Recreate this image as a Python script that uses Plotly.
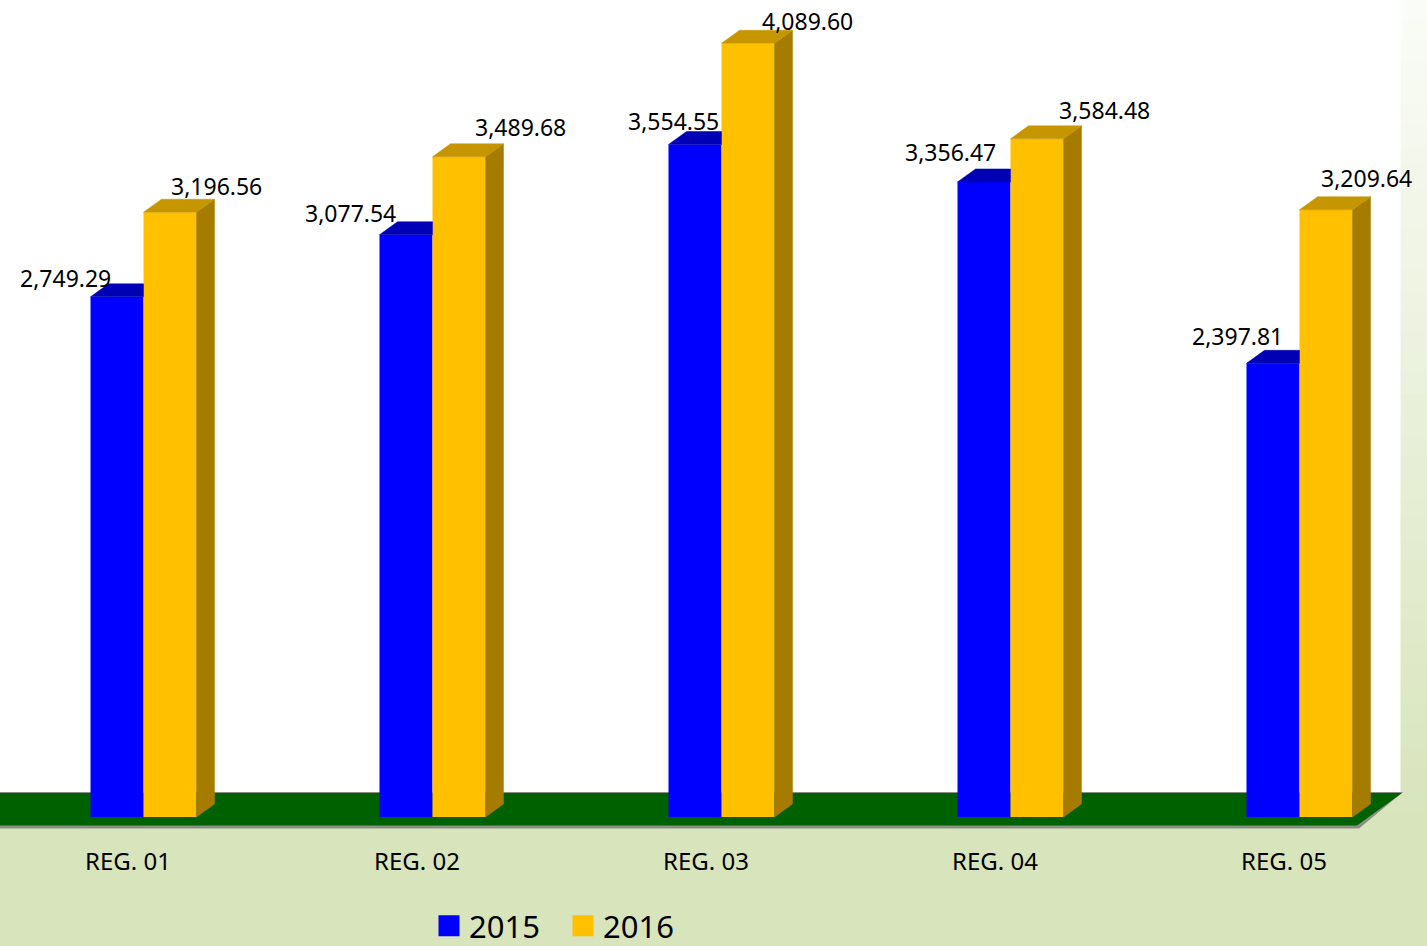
import plotly.graph_objects as go

# ---------------- data ----------------
categories = ["REG. 01", "REG. 02", "REG. 03", "REG. 04", "REG. 05"]
series_names = ["2015", "2016"]
values_2015 = [2749.29, 3077.54, 3554.55, 3356.47, 2397.81]
values_2016 = [3196.56, 3489.68, 4089.60, 3584.48, 3209.64]

# label nudges (pixels, relative to the top centre of the bar front face)
nudge_2015 = [(-52, 19), (-56, 22), (-22, 23), (-34, 30), (-36, 27)]
nudge_2016 = [(46, 26), (61, 30), (59, 22), (67, 29), (40, 32)]

# ---------------- geometry / style ----------------
W, H = 1427, 946
CAT_PX = 289.0          # pixels per category
CAT0_PX = 128.0         # pixel x of first category centre
BASE_PX = 817.0         # pixel y of value 0 (front of bars)
Y_PX_PER_UNIT = 0.1892  # pixels per value unit

x_min = -CAT0_PX / CAT_PX
x_max = x_min + W / CAT_PX
y_max = BASE_PX / Y_PX_PER_UNIT
y_min = -(H - BASE_PX) / Y_PX_PER_UNIT


def dx(px):
    return px / CAT_PX


def dy(px):
    return px / Y_PX_PER_UNIT


def X(px):
    return x_min + px / CAT_PX


def Y(py):
    return (BASE_PX - py) / Y_PX_PER_UNIT


BAR_W = dx(53)
OFF_2015 = dx(-11)
OFF_2016 = dx(42)
DEPTH_X = dx(18)
DEPTH_Y = dy(13)

BLUE = "#0000FF"
BLUE_TOP = "#0000B4"
GOLD = "#FFC000"
GOLD_TOP = "#C69600"
GOLD_SIDE = "#A67C00"
FLOOR = "#006100"
BG = "#D8E4BC"
FONT = "Noto Sans"

xpos_2015 = [i + OFF_2015 for i in range(len(categories))]
xpos_2016 = [i + OFF_2016 for i in range(len(categories))]

fig = go.Figure()

# front faces
fig.add_trace(go.Bar(x=xpos_2015, y=values_2015, width=BAR_W, name=series_names[0],
                     marker=dict(color=BLUE, line=dict(width=0)), showlegend=False,
                     hovertemplate="%{y:,.2f}<extra>2015</extra>"))
fig.add_trace(go.Bar(x=xpos_2016, y=values_2016, width=BAR_W, name=series_names[1],
                     marker=dict(color=GOLD, line=dict(width=0)), showlegend=False,
                     hovertemplate="%{y:,.2f}<extra>2016</extra>"))

# blue tops (clipped where the gold bar stands in front)
tx, ty = [], []
for xc, v in zip(xpos_2015, values_2015):
    xl, xr = xc - BAR_W / 2, xc + BAR_W / 2
    tx += [xl, xr, xr, xl + DEPTH_X, xl, None]
    ty += [v, v, v + DEPTH_Y, v + DEPTH_Y, v, None]
fig.add_trace(go.Scatter(x=tx, y=ty, mode="lines", fill="toself", fillcolor=BLUE_TOP,
                         line=dict(width=0.5, color=BLUE_TOP), showlegend=False, hoverinfo="skip"))

# gold sides
sx, sy = [], []
for xc, v in zip(xpos_2016, values_2016):
    xr = xc + BAR_W / 2
    sx += [xr, xr + DEPTH_X, xr + DEPTH_X, xr, xr, None]
    sy += [0, DEPTH_Y, v + DEPTH_Y, v, 0, None]
fig.add_trace(go.Scatter(x=sx, y=sy, mode="lines", fill="toself", fillcolor=GOLD_SIDE,
                         line=dict(width=0.5, color=GOLD_SIDE), showlegend=False, hoverinfo="skip"))

# gold tops
tx, ty = [], []
for xc, v in zip(xpos_2016, values_2016):
    xl, xr = xc - BAR_W / 2, xc + BAR_W / 2
    tx += [xl, xr, xr + DEPTH_X, xl + DEPTH_X, xl, None]
    ty += [v, v, v + DEPTH_Y, v + DEPTH_Y, v, None]
fig.add_trace(go.Scatter(x=tx, y=ty, mode="lines", fill="toself", fillcolor=GOLD_TOP,
                         line=dict(width=0.5, color=GOLD_TOP), showlegend=False, hoverinfo="skip"))

# legend entries
for nm, col in zip(series_names, [BLUE, GOLD]):
    fig.add_trace(go.Scatter(x=[None], y=[None], mode="markers", name=nm,
                             marker=dict(symbol="square", size=16, color=col,
                                         line=dict(width=5, color=col))))

# value labels
annotations = []
for xs, vals, nudges in ((xpos_2015, values_2015, nudge_2015), (xpos_2016, values_2016, nudge_2016)):
    for xc, v, (ndx, ndy) in zip(xs, vals, nudges):
        annotations.append(dict(x=xc + dx(ndx), y=v + dy(ndy), xref="x", yref="y",
                                text=f"{v:,.2f}", showarrow=False, xanchor="center", yanchor="middle",
                                font=dict(family=FONT, size=23, color="#000000")))

# ---------------- background decorations ----------------
shapes = []


def hex2rgb(h):
    h = h.lstrip("#")
    return tuple(int(h[i:i + 2], 16) for i in (0, 2, 4))


top_c = hex2rgb("#FAFCF7")
bot_c = hex2rgb(BG)
N = 40
GRAD_END = 830.0
for k in range(N):
    t = k / (N - 1)
    c = tuple(round(top_c[j] + (bot_c[j] - top_c[j]) * t) for j in range(3))
    p0 = GRAD_END * k / N
    p1 = GRAD_END * (k + 1) / N + 1
    shapes.append(dict(type="rect", xref="x", yref="y", x0=x_min, x1=x_max, y0=Y(p1), y1=Y(p0),
                       fillcolor=f"rgb{c}", line=dict(width=0), layer="below"))

# back wall
shapes.append(dict(type="rect", xref="x", yref="y", x0=X(-20), x1=X(1400.5), y0=Y(794), y1=Y(-20),
                   fillcolor="#FFFFFF", line=dict(width=0), layer="below"))


def path(pts):
    return "M " + " L ".join(f"{X(a)},{Y(b)}" for a, b in pts) + " Z"


# floor shadow and floor
shapes.append(dict(type="path", xref="x", yref="y",
                   path=path([(-30, 792), (1403, 792), (1359, 828.5), (-30, 828.5)]),
                   fillcolor="#8A8F85", line=dict(width=0), layer="below"))
shapes.append(dict(type="path", xref="x", yref="y",
                   path=path([(-30, 793), (1402, 793), (1357, 825.5), (-30, 825.5)]),
                   fillcolor=FLOOR, line=dict(width=0), layer="below"))

fig.update_layout(
    width=W, height=H,
    margin=dict(l=0, r=0, t=0, b=0, pad=0, autoexpand=False),
    paper_bgcolor=BG, plot_bgcolor="rgba(0,0,0,0)",
    barmode="overlay",
    shapes=shapes,
    annotations=annotations,
    font=dict(family=FONT, color="#000000"),
    xaxis=dict(range=[x_min, x_max], tickvals=list(range(len(categories))), ticktext=categories,
               showgrid=False, zeroline=False, showline=False, ticks="",
               anchor="free", position=(H - 844.5) / H, automargin=False,
               tickfont=dict(family=FONT, size=24, color="#000000"), fixedrange=True),
    yaxis=dict(range=[y_min, y_max], visible=False, showgrid=False, zeroline=False, fixedrange=True),
    legend=dict(orientation="h", x=429 / W, xanchor="left", y=(H - 926) / H, yanchor="middle",
                font=dict(family=FONT, size=31, color="#000000"), bgcolor="rgba(0,0,0,0)",
                itemsizing="trace", entrywidth=89, entrywidthmode="pixels"),
    showlegend=True,
)

fig.write_html("out.html", config={"displayModeBar": False},
               post_script="document.body.style.margin='0';")
